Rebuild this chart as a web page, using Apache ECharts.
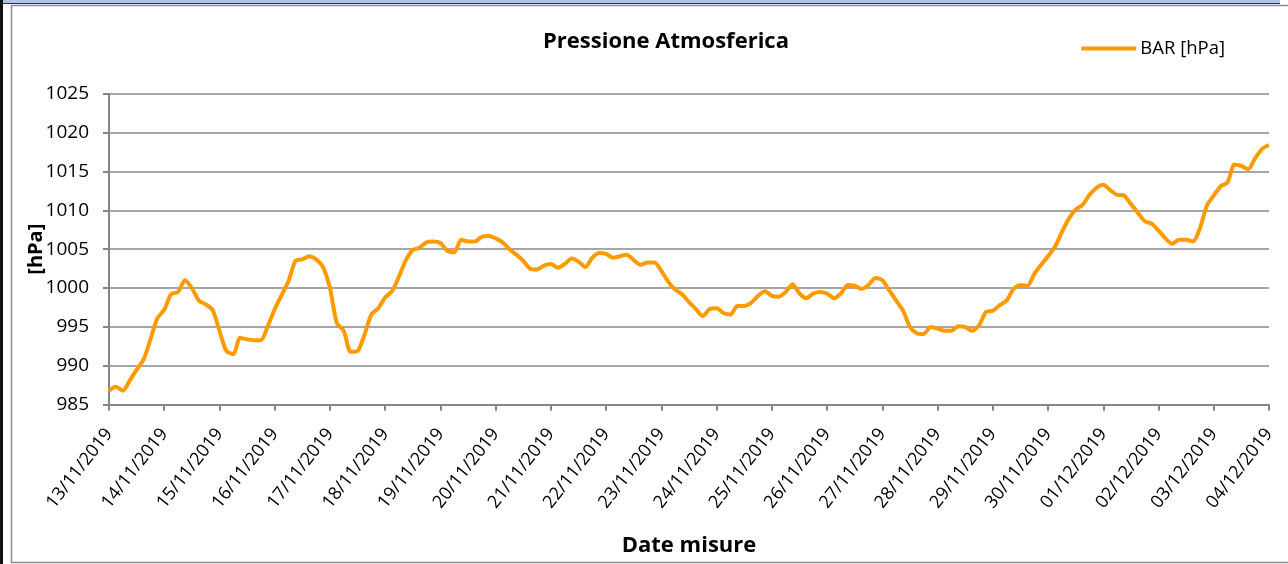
<!DOCTYPE html>
<html><head><meta charset="utf-8">
<script src="https://cdn.jsdelivr.net/npm/echarts@6/dist/echarts.min.js"></script>
<style>html,body{margin:0;padding:0;background:#fff}#c{width:1288px;height:564px}</style>
</head><body><div id="c"></div>
<script>
const title = "Pressione Atmosferica";
const seriesName = "BAR [hPa]";
const xTitle = "Date misure";
const yTitle = "[hPa]";
const dateLabels = ["13/11/2019","14/11/2019","15/11/2019","16/11/2019","17/11/2019","18/11/2019","19/11/2019","20/11/2019","21/11/2019","22/11/2019","23/11/2019","24/11/2019","25/11/2019","26/11/2019","27/11/2019","28/11/2019","29/11/2019","30/11/2019","01/12/2019","02/12/2019","03/12/2019","04/12/2019"];
const samplesPerDay = 8; // one reading every 3 hours
const pressure = [
986.8,987.3,986.8,988.1,989.5,990.8,993.4,996.1,
997.2,999.2,999.5,1001.0,1000.0,998.4,997.9,997.2,
994.5,991.9,991.5,993.6,993.4,993.3,993.3,995.1,
997.3,999.1,1000.9,1003.5,1003.7,1004.1,1003.7,1002.7,
1000.0,995.5,994.5,991.8,991.9,994.0,996.6,997.4,
998.8,999.6,1001.5,1003.6,1004.9,1005.2,1005.9,1006.0,
1005.8,1004.8,1004.6,1006.2,1006.0,1006.0,1006.6,1006.7,
1006.4,1005.9,1005.0,1004.3,1003.5,1002.5,1002.4,1002.9,
1003.1,1002.6,1003.1,1003.8,1003.4,1002.7,1003.9,1004.5,
1004.4,1003.9,1004.1,1004.3,1003.6,1003.0,1003.3,1003.3,
1002.2,1000.8,999.8,999.2,998.2,997.3,996.4,997.3,
997.4,996.8,996.6,997.7,997.7,998.1,999.0,999.6,
999.0,998.9,999.5,1000.5,999.3,998.7,999.3,999.5,
999.3,998.7,999.3,1000.4,1000.3,999.9,1000.4,1001.3,
1001.0,999.7,998.4,997.1,995.0,994.2,994.1,995.0,
994.8,994.5,994.5,995.1,995.0,994.5,995.2,996.9,
997.1,997.8,998.4,999.9,1000.4,1000.3,1001.8,1003.0,
1004.1,1005.3,1007.2,1008.9,1010.1,1010.7,1012.0,1012.9,
1013.3,1012.6,1012.0,1011.9,1010.8,1009.7,1008.6,1008.3,
1007.4,1006.4,1005.7,1006.2,1006.2,1006.0,1007.7,1010.6,
1011.9,1013.1,1013.6,1015.9,1015.7,1015.3,1016.7,1017.9,
1018.4
];
const yMin = 985, yMax = 1025, yStep = 5;

const data = pressure.map((v, i) => [i / samplesPerDay, v]);
const chart = echarts.init(document.getElementById('c'), null, {renderer: 'canvas'});
const font = '"Open Sans", "Noto Sans", sans-serif';
chart.setOption({
  animation: false,
  backgroundColor: '#ffffff',
  graphic: [
    {type: 'rect', shape: {x: 0, y: 0, width: 1280, height: 3}, style: {fill: '#a9c4e4'}, z: 0},
    {type: 'rect', shape: {x: 0, y: 3, width: 1280, height: 1}, style: {fill: '#333'}, z: 0},
    {type: 'rect', shape: {x: 0, y: 0, width: 3, height: 564}, style: {fill: '#111'}, z: 0},
    {type: 'rect', shape: {x: 11.5, y: 5.5, width: 1300, height: 557}, style: {fill: 'none', stroke: '#8c8c8c', lineWidth: 1.5}, z: 0}
  ],
  title: {
    text: title, left: 661, top: 26, textAlign: 'center',
    textStyle: {fontFamily: font, fontWeight: 'bold', fontSize: 22, color: '#000'}
  },
  legend: {
    right: 58, top: 34, itemWidth: 55, itemHeight: 4, itemGap: 4,
    textStyle: {fontFamily: font, fontSize: 18.5, color: '#000', padding: [0, 0, 0, -1]},
    data: [{name: seriesName, icon: 'path://M0,0 L55,0 L55,4 L0,4 Z'}]
  },
  grid: {left: 109, right: 19, top: 93.7, bottom: 159.3, containLabel: false},
  xAxis: {
    type: 'value', min: 0, max: dateLabels.length - 1, interval: 1,
    name: xTitle, nameLocation: 'middle', nameGap: 130, nameMoveOverlap: false,
    nameTextStyle: {fontFamily: font, fontWeight: 'bold', fontSize: 22, color: '#000'},
    axisLine: {show: true, lineStyle: {color: '#868686', width: 2}},
    axisTick: {show: true, length: 6, lineStyle: {color: '#868686', width: 2}},
    splitLine: {show: false},
    axisLabel: {
      rotate: 52, margin: 26, fontFamily: font, fontSize: 18, color: '#000',
      formatter: v => dateLabels[Math.round(v)] || ''
    }
  },
  yAxis: {
    type: 'value', min: yMin, max: yMax, interval: yStep,
    name: yTitle, nameLocation: 'middle', nameGap: 63, nameRotate: 90, nameMoveOverlap: false,
    nameTextStyle: {fontFamily: font, fontWeight: 'bold', fontSize: 20, color: '#000'},
    axisLine: {show: true, lineStyle: {color: '#868686', width: 2}},
    axisTick: {show: true, length: 6, lineStyle: {color: '#868686', width: 2}},
    splitLine: {show: true, lineStyle: {color: '#a6a6a6', width: 2}},
    axisLabel: {margin: 20, fontFamily: font, fontSize: 19, color: '#000', formatter: v => String(v)}
  },
  series: [{
    name: seriesName, type: 'line', data: data, smooth: 0.25,
    showSymbol: false, symbol: 'none',
    lineStyle: {color: '#ff9a00', width: 4},
    itemStyle: {color: '#ff9a00'}
  }]
});
</script></body></html>
